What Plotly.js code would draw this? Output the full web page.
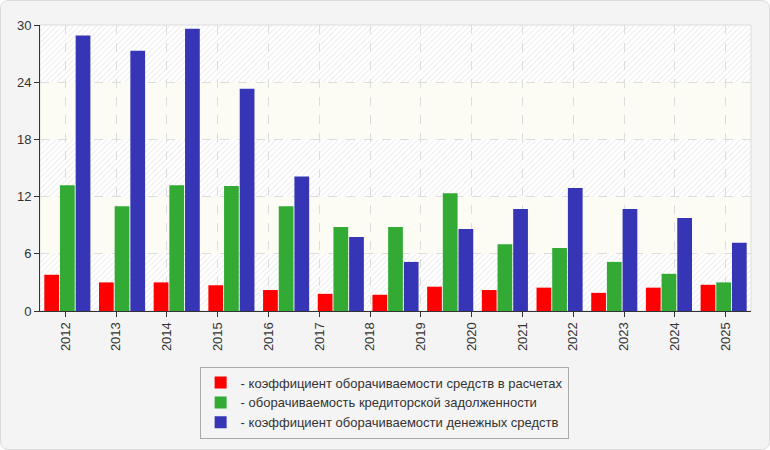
<!DOCTYPE html>
<html>
<head>
<meta charset="utf-8">
<script src="https://cdn.plot.ly/plotly-3.0.1.min.js"></script>
<style>
    html, body { margin: 0; padding: 0; background: #ffffff; }
    #frame {
        width: 770px; height: 450px; box-sizing: border-box;
        border: 1px solid #dcdcdc; border-radius: 8px; background: #f4f4f4;
        overflow: hidden;
    }
    #chart { width: 768px; height: 448px; }
</style>
</head>
<body>
<div id="frame"><div id="chart"></div></div>
<script>
// tick labels under the plot (14 years)
const years = ["2012", "2013", "2014", "2015", "2016", "2017", "2018",
               "2019", "2020", "2021", "2022", "2023", "2024", "2025"];

// the bar groups (13 of them, spread over the full width)
const receivablesTurnover = [3.8, 3.0, 3.0, 2.7, 2.2, 1.8, 1.7, 2.55, 2.2, 2.45, 1.9, 2.45, 2.75];
const payablesTurnover = [13.2, 11.0, 13.2, 13.1, 11.0, 8.8, 8.8, 12.35, 7.0, 6.6, 5.15, 3.9, 3.0];
const cashTurnover = [28.9, 27.3, 29.6, 23.3, 14.1, 7.75, 5.15, 8.6, 10.7, 12.9, 10.7, 9.75, 7.15];

const seriesNames = [
    "- коэффициент оборачиваемости средств в расчетах",
    "- оборачиваемость кредиторской задолженности",
    "- коэффициент оборачиваемости денежных средств"
];
const seriesColors = ["#ff0000", "#33aa33", "#3535b5"];

const groupIndex = receivablesTurnover.map((_, i) => i);

// hatched background with light bands, drawn behind the plot area
const bgSvg =
    "<svg xmlns='http://www.w3.org/2000/svg' width='711' height='287'>" +
    "<defs><pattern id='h' width='4' height='4' patternUnits='userSpaceOnUse' patternTransform='rotate(45)'>" +
    "<rect width='4' height='4' fill='#ffffff'/>" +
    "<line x1='0' y1='0' x2='0' y2='4' stroke='#e9e9e9' stroke-width='1.6'/></pattern></defs>" +
    "<rect width='100%' height='100%' fill='url(#h)'/>" +
    "<rect y='20%' width='100%' height='20%' fill='#fcfcf5'/>" +
    "<rect y='60%' width='100%' height='20%' fill='#fcfcf5'/>" +
    "</svg>";

const font = { family: "Arial, 'Liberation Sans', sans-serif", color: "#333333" };

const traces = [receivablesTurnover, payablesTurnover, cashTurnover].map((vals, k) => ({
    type: "bar",
    name: seriesNames[k],
    x: groupIndex,
    y: vals,
    xaxis: "x",
    yaxis: "y",
    marker: { color: seriesColors[k], line: { width: 0 } },
    hoverinfo: "y"
}));

// carrier for the year axis
traces.push({
    type: "scatter",
    mode: "markers",
    x: years,
    y: years.map(() => null),
    xaxis: "x2",
    yaxis: "y",
    showlegend: false,
    hoverinfo: "skip"
});

const layout = {
    width: 768,
    height: 448,
    paper_bgcolor: "rgba(0,0,0,0)",
    plot_bgcolor: "rgba(0,0,0,0)",
    margin: { l: 39, r: 18, t: 24, b: 137 },
    font: font,
    barmode: "group",
    bargap: 0.14,
    bargroupgap: 0.06,
    showlegend: true,
    legend: {
        x: 0.484, xanchor: "center",
        y: -0.19, yanchor: "top",
        bgcolor: "#f4f4f4",
        bordercolor: "#aaaaaa",
        borderwidth: 1,
        font: { family: font.family, size: 13, color: "#333333" },
        itemwidth: 30,
        tracegroupgap: 0
    },
    xaxis: {
        range: [-0.5, receivablesTurnover.length - 0.5],
        showticklabels: false,
        showgrid: false,
        zeroline: false,
        ticks: "",
        showline: true,
        linecolor: "#333333",
        linewidth: 1,
        fixedrange: true
    },
    xaxis2: {
        type: "category",
        categoryarray: years,
        overlaying: "x",
        side: "bottom",
        anchor: "y",
        range: [-0.5, years.length - 0.5],
        showline: false,
        ticks: "outside",
        ticklen: 5,
        tickcolor: "#333333",
        tickangle: -90,
        tickfont: { family: font.family, size: 13, color: "#333333" },
        showgrid: true,
        gridcolor: "#dddddd",
        griddash: "dash",
        gridwidth: 1,
        fixedrange: true
    },
    yaxis: {
        range: [0, 30],
        tickvals: [0, 6, 12, 18, 24, 30],
        ticks: "outside",
        ticklen: 5,
        tickcolor: "#333333",
        tickfont: { family: font.family, size: 13, color: "#333333" },
        showline: true,
        linecolor: "#333333",
        showgrid: true,
        gridcolor: "#dddddd",
        griddash: "dash",
        zeroline: false,
        fixedrange: true
    },
    shapes: [{
        type: "rect", xref: "paper", yref: "paper",
        x0: 0, x1: 1, y0: 0, y1: 1,
        line: { color: "#dddddd", width: 1 },
        layer: "below"
    }],
    images: [{
        source: "data:image/svg+xml;charset=utf-8," + encodeURIComponent(bgSvg),
        xref: "paper", yref: "paper",
        x: 0, y: 1, sizex: 1, sizey: 1,
        xanchor: "left", yanchor: "top",
        sizing: "stretch",
        layer: "below"
    }]
};

Plotly.newPlot("chart", traces, layout, { displayModeBar: false, staticPlot: true });
</script>
</body>
</html>
